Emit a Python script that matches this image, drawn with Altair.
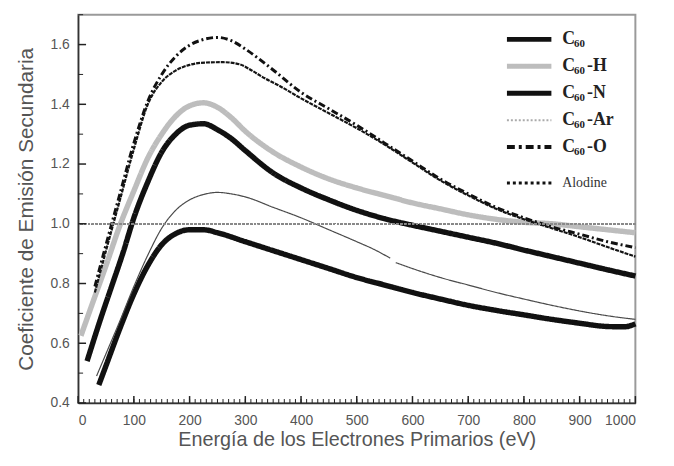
import altair as alt
import pandas as pd

# ---------------- data ----------------
c60_e = [37, 50, 75, 100, 125, 150, 175, 200, 225, 250, 300, 350, 400, 450, 500, 550, 600, 650, 700, 750, 800, 850, 900, 950, 980, 1000]
c60_v = [0.46, 0.525, 0.65, 0.765, 0.86, 0.93, 0.967, 0.98, 0.98, 0.97, 0.94, 0.91, 0.88, 0.85, 0.82, 0.795, 0.77, 0.748, 0.727, 0.71, 0.695, 0.68, 0.667, 0.656, 0.655, 0.665]

h_e = [5, 25, 50, 75, 100, 125, 150, 175, 200, 225, 250, 275, 300, 350, 400, 450, 500, 550, 600, 650, 700, 750, 800, 850, 900, 950, 1000]
h_v = [0.625, 0.73, 0.86, 0.995, 1.11, 1.22, 1.30, 1.36, 1.395, 1.405, 1.39, 1.355, 1.31, 1.24, 1.19, 1.15, 1.12, 1.095, 1.07, 1.05, 1.03, 1.015, 1.005, 1.0, 0.99, 0.98, 0.97]

n_e = [16, 40, 60, 80, 100, 125, 150, 175, 200, 225, 250, 275, 300, 350, 400, 450, 500, 550, 600, 650, 700, 750, 800, 850, 900, 950, 1000]
n_v = [0.54, 0.68, 0.79, 0.90, 1.02, 1.14, 1.24, 1.30, 1.33, 1.335, 1.315, 1.285, 1.245, 1.17, 1.12, 1.08, 1.045, 1.017, 0.995, 0.975, 0.955, 0.935, 0.912, 0.89, 0.868, 0.846, 0.825]

ar1_e = [33, 50, 75, 100, 125, 150, 175, 200, 225, 250, 275, 300, 350, 400, 450, 500, 530, 560]
ar1_v = [0.49, 0.565, 0.675, 0.79, 0.895, 0.985, 1.045, 1.08, 1.098, 1.105, 1.10, 1.09, 1.055, 1.02, 0.98, 0.94, 0.915, 0.885]
ar2_e = [570, 600, 650, 700, 750, 800, 850, 900, 950, 1000]
ar2_v = [0.87, 0.85, 0.82, 0.795, 0.77, 0.748, 0.727, 0.708, 0.692, 0.68]

o_e = [30, 50, 75, 100, 125, 150, 175, 200, 225, 250, 275, 300, 350, 400, 450, 500, 550, 600, 650, 700, 750, 800, 850, 900, 950, 1000]
o_v = [0.79, 0.93, 1.10, 1.27, 1.41, 1.50, 1.56, 1.598, 1.617, 1.624, 1.613, 1.585, 1.515, 1.44, 1.385, 1.33, 1.27, 1.21, 1.15, 1.10, 1.055, 1.02, 0.99, 0.965, 0.94, 0.92]

al_e = [30, 50, 75, 100, 125, 150, 175, 200, 230, 260, 290, 310, 335, 360, 400, 450, 500, 550, 600, 650, 700, 750, 800, 850, 900, 950, 1000]
al_v = [0.77, 0.91, 1.08, 1.25, 1.40, 1.475, 1.513, 1.532, 1.54, 1.541, 1.534, 1.515, 1.487, 1.463, 1.42, 1.37, 1.32, 1.265, 1.205, 1.145, 1.095, 1.05, 1.015, 0.985, 0.955, 0.922, 0.89]

series_names = ["C60", "C60-H", "C60-N", "C60-Ar", "C60-O", "Alodine"]
legend_main = ["C", "C", "C", "C", "C", "Alodine"]
legend_sub = ["60", "60", "60", "60", "60", ""]
legend_suffix = ["", "-H", "-N", "-Ar", "-O", ""]

x_major = [0, 100, 200, 300, 400, 500, 600, 700, 800, 900, 1000]
x_minor = list(range(10, 1000, 10))
y_major = [0.4, 0.6, 0.8, 1.0, 1.2, 1.4, 1.6]
y_minor = [0.5, 0.7, 0.9, 1.1, 1.3, 1.5, 1.7]

# ---------------- styles ----------------
line_colors = ["#111111", "#bdbdbd", "#111111", "#4a4a4a", "#111111", "#151515"]
line_widths = [5.5, 5.5, 5.5, 1.2, 3, 2.2]
line_dashes = [[1, 0], [1, 0], [1, 0], [1, 0], [7, 3, 2, 3], [4, 1]]
leg_colors = ["#111111", "#bdbdbd", "#111111", "#aaaaaa", "#111111", "#111111"]
leg_widths = [5, 5, 5, 2, 4, 3]
leg_dashes = [[1, 0], [1, 0], [1, 0], [2, 2], [8, 4, 3, 4], [3, 3]]

PW, PH = 564, 393

# ---------------- build tables ----------------
curves = [
    ("C60-H", "a", h_e, h_v),
    ("C60", "a", c60_e, c60_v),
    ("C60-N", "a", n_e, n_v),
    ("C60-Ar", "a", ar1_e, ar1_v),
    ("C60-Ar", "b", ar2_e, ar2_v),
    ("C60-O", "a", o_e, o_v),
    ("Alodine", "a", al_e, al_v),
]
rows = []
for name, seg, es, vs in curves:
    w = line_widths[series_names.index(name)]
    for e, v in zip(es, vs):
        rows.append({"series": name, "seg": seg, "energy": e, "value": v, "sw": w})
df = pd.DataFrame(rows)

ticks_df = pd.DataFrame(
    [{"kind": "xM", "t": v} for v in x_major]
    + [{"kind": "xm", "t": v} for v in x_minor]
    + [{"kind": "yM", "t": v} for v in y_major]
    + [{"kind": "ym", "t": v} for v in y_minor]
)

leg = pd.DataFrame({
    "series": series_names,
    "idx": list(range(len(series_names))),
    "main": legend_main,
    "sub": legend_sub,
    "suffix": legend_suffix,
    "lw": leg_widths,
})

xscale = alt.Scale(domain=[0, 1000], nice=False, zero=False)
yscale = alt.Scale(domain=[0.4, 1.7], nice=False, zero=False)

FONT = "Liberation Sans"
GREY = "#555555"
TICK = "#222222"

ref = alt.Chart(df).mark_rule(color="#8a8a8a", strokeDash=[2, 2], strokeWidth=1).encode(
    y=alt.datum(1.0)
)

lines = alt.Chart(df).mark_line(interpolate="monotone").encode(
    x=alt.X("energy:Q", scale=xscale,
            axis=alt.Axis(values=x_major, format="d", ticks=False, tickSize=0,
                          grid=False, labelPadding=11,
                          labelFont=FONT, labelFontSize=14, labelColor=GREY,
                          domainColor="#333333", domainWidth=1.5,
                          title="Energía de los Electrones Primarios (eV)",
                          titleFont=FONT, titleFontSize=20, titleFontWeight="normal",
                          titleColor=GREY, titleY=37, titleBaseline="middle")),
    y=alt.Y("value:Q", scale=yscale,
            axis=alt.Axis(values=y_major, format=".1f", ticks=False, tickSize=0,
                          grid=False, labelPadding=9,
                          labelFont=FONT, labelFontSize=14, labelColor=GREY,
                          domainColor="#333333", domainWidth=1.5,
                          title="Coeficiente de Emisión Secundaria",
                          titleFont=FONT, titleFontSize=21, titleFontWeight="normal",
                          titleColor=GREY, titleX=-52, titleY=PH / 2, titleAngle=270,
                          titleBaseline="middle", titleAlign="center")),
    color=alt.Color("series:N", scale=alt.Scale(domain=series_names, range=line_colors), legend=None),
    strokeDash=alt.StrokeDash("series:N", scale=alt.Scale(domain=series_names, range=line_dashes), legend=None),
    strokeWidth=alt.StrokeWidth("sw:Q", scale=None, legend=None),
    detail="seg:N",
)

# inward axis ticks, as rules positioned through the shared x / y scales
tick_base = alt.Chart(ticks_df)
xt_major = tick_base.transform_filter("datum.kind == 'xM'").mark_rule(
    color=TICK, strokeWidth=1.5).encode(
    x=alt.X("t:Q", scale=xscale), y=alt.value(PH - 7), y2=alt.value(PH))
xt_minor = tick_base.transform_filter("datum.kind == 'xm'").mark_rule(
    color=TICK, strokeWidth=1).encode(
    x=alt.X("t:Q", scale=xscale), y=alt.value(PH - 4), y2=alt.value(PH))
yt_major = tick_base.transform_filter("datum.kind == 'yM'").mark_rule(
    color=TICK, strokeWidth=1.5).encode(
    y=alt.Y("t:Q", scale=yscale), x=alt.value(0), x2=alt.value(8))
yt_minor = tick_base.transform_filter("datum.kind == 'ym'").mark_rule(
    color=TICK, strokeWidth=1).encode(
    y=alt.Y("t:Q", scale=yscale), x=alt.value(0), x2=alt.value(5))

data_layer = alt.layer(lines, ref, xt_major, xt_minor, yt_major, yt_minor)

leg_base = alt.Chart(leg).transform_calculate(
    pos="datum.idx + (datum.idx == 5 ? 0.33 : 0)"
)
leg_y = alt.Y("pos:Q", scale=alt.Scale(domain=[0, 4], range=[25, 134], nice=False, zero=False), axis=None)

leg_sym = leg_base.mark_rule().encode(
    x=alt.value(434), x2=alt.value(479), y=leg_y,
    color=alt.Color("series:N", scale=alt.Scale(domain=series_names, range=leg_colors), legend=None),
    strokeDash=alt.StrokeDash("series:N", scale=alt.Scale(domain=series_names, range=leg_dashes), legend=None),
    strokeWidth=alt.StrokeWidth("lw:Q", scale=None, legend=None),
)
leg_c = leg_base.transform_filter("datum.idx < 5").mark_text(
    align="left", baseline="middle", font="Liberation Serif", fontSize=18, fontWeight="bold", color="#222222"
).encode(x=alt.value(490), y=leg_y, text="main:N")
leg_s = leg_base.transform_filter("datum.idx < 5").mark_text(
    align="left", baseline="middle", font="Liberation Serif", fontSize=11, fontWeight="bold", color="#222222", dy=5
).encode(x=alt.value(502), y=leg_y, text="sub:N")
leg_x = leg_base.transform_filter("datum.idx < 5").mark_text(
    align="left", baseline="middle", font="Liberation Serif", fontSize=18, fontWeight="bold", color="#222222"
).encode(x=alt.value(515), y=leg_y, text="suffix:N")
leg_a = leg_base.transform_filter("datum.idx == 5").mark_text(
    align="left", baseline="middle", font="Liberation Serif", fontSize=14, color="#333333"
).encode(x=alt.value(490), y=leg_y, text="main:N")

legend_layer = alt.layer(leg_sym, leg_c, leg_s, leg_x, leg_a)

chart = alt.layer(data_layer, legend_layer).resolve_scale(
    y="independent", color="independent", strokeDash="independent"
).properties(
    width=PW, height=PH,
    autosize=alt.AutoSizeParams(type="none"),
    padding={"left": 71, "top": 4, "right": 31, "bottom": 61},
).configure_view(stroke="#9a9a9a", strokeWidth=2)

chart.save("out.html", embed_options={"renderer": "svg", "actions": False})
